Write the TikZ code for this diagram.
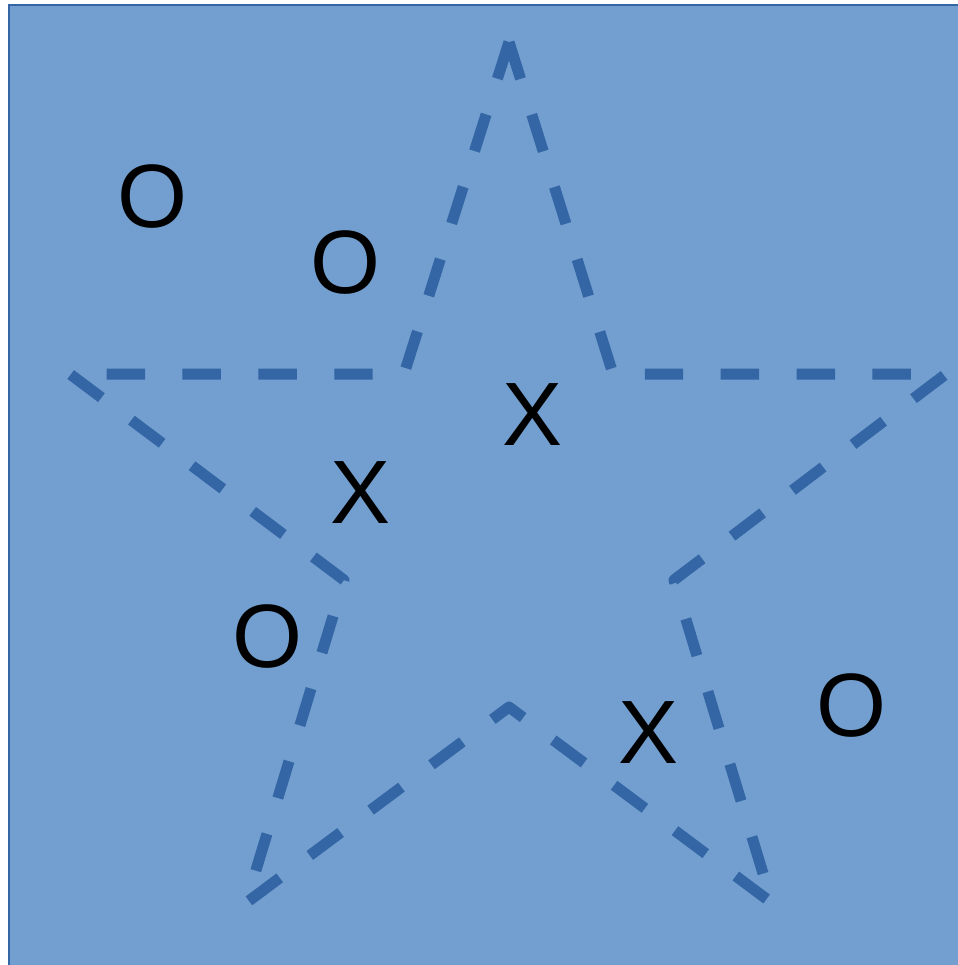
\documentclass[tikz,border=0pt]{standalone}
\usepackage{fontspec}
\setmainfont{Liberation Sans}
\usepackage{tikz}
\usetikzlibrary{positioning, calc}
\definecolor{boardfill}{HTML}{729FCF}
\definecolor{starblue}{HTML}{3465A4}

\begin{document}
\begin{tikzpicture}[
    x=0.5pt, y=-0.5pt,
    board/.style={fill=boardfill, draw=starblue, line width=0.6pt},
    starline/.style={draw=starblue, line width=5.5pt, line join=round,
                     dash pattern=on 19.22pt off 18.73pt},
    play/.style={inner sep=0pt, font=\fontsize{45}{45}\selectfont}
]
    \useasboundingbox (0,0) rectangle (958,965);
    % Board
    \path[board] (9,5) rectangle (964,972);

    % Star points
    \coordinate (top) at (509,42);
    \coordinate (inUL) at (404,374);
    \coordinate (left) at (70,374);
    \coordinate (inLL) at (344,580);
    \coordinate (botL) at (246,903);
    \coordinate (inB) at (509,707);
    \coordinate (botR) at (772,903);
    \coordinate (inLR) at (674,580);
    \coordinate (right) at (946,374);
    \coordinate (inUR) at (613,374);

    % Star
    \draw[starline] (top) -- (inUL) -- (left) -- (inLL) -- (botL) -- (inB)
        -- (botR) -- (inLR) -- (right) -- (inUR) -- cycle;

    % Moves
    \node[play] (o1) at (153,197) {O};
    \node[play] (o2) at (345,263) {O};
    \node[play] (x1) at (533,415) {X};
    \node[play] (x2) at (361,493) {X};
    \node[play] (o3) at (268,637) {O};
    \node[play] (x3) at (649,733) {X};
    \node[play] (o4) at (851,706) {O};
\end{tikzpicture}
\end{document}
